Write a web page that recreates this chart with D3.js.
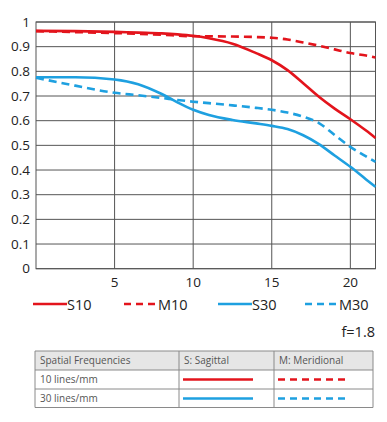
<!DOCTYPE html>
<html>
<head>
<meta charset="utf-8">
<script src="https://cdn.jsdelivr.net/npm/d3@7"></script>
<style>
  body { margin: 0; background: #fff; }
  svg { display: block; font-family: "Open Sans", sans-serif; }
</style>
</head>
<body>
<svg width="387" height="422"></svg>
<script>
// image height (mm) from centre
const heights = [0, 2.5, 5, 6.5, 8, 9, 10, 11, 12.5, 14, 15, 16, 17, 18, 19, 20, 21, 21.6];
// contrast values per series
const s10 = [0.964, 0.963, 0.96, 0.957, 0.954, 0.95, 0.944, 0.934, 0.912, 0.874, 0.845, 0.805, 0.752, 0.697, 0.649, 0.606, 0.56, 0.53];
const m10 = [0.963, 0.959, 0.955, 0.952, 0.948, 0.945, 0.942, 0.942, 0.941, 0.939, 0.936, 0.929, 0.917, 0.904, 0.889, 0.874, 0.864, 0.856];
const s30 = [0.776, 0.776, 0.767, 0.748, 0.708, 0.674, 0.644, 0.623, 0.603, 0.589, 0.579, 0.566, 0.541, 0.505, 0.459, 0.413, 0.362, 0.332];
const m30 = [0.774, 0.742, 0.713, 0.703, 0.692, 0.684, 0.677, 0.671, 0.662, 0.652, 0.644, 0.633, 0.616, 0.59, 0.542, 0.494, 0.455, 0.433];
const xTicks = [5, 10, 15, 20];
const yTicks = [0, 0.1, 0.2, 0.3, 0.4, 0.5, 0.6, 0.7, 0.8, 0.9, 1];

const red = '#e3141c';
const blue = '#1ea0e0';

const series = [
  { name: 'S10', values: s10, color: red, dash: null },
  { name: 'M10', values: m10, color: red, dash: '8,5' },
  { name: 'S30', values: s30, color: blue, dash: null },
  { name: 'M30', values: m30, color: blue, dash: '8,5' }
];

const svg = d3.select('svg');
const plotL = 36, plotR = 375.5, plotT = 22, plotB = 268.7;

const x = d3.scaleLinear().domain([0, 21.6]).range([plotL, plotR]);
const y = d3.scaleLinear().domain([0, 1]).range([plotB, plotT]);

// grid
const grid = svg.append('g').attr('stroke', '#555').attr('stroke-width', 1);
grid.selectAll('.h').data(yTicks).enter().append('line')
  .attr('x1', plotL).attr('x2', plotR)
  .attr('y1', d => y(d)).attr('y2', d => y(d));
grid.selectAll('.v').data(xTicks).enter().append('line')
  .attr('x1', d => x(d)).attr('x2', d => x(d))
  .attr('y1', plotT).attr('y2', plotB);
svg.append('rect')
  .attr('x', plotL).attr('y', plotT)
  .attr('width', plotR - plotL).attr('height', plotB - plotT)
  .attr('fill', 'none').attr('stroke', '#555');

// tick labels
svg.selectAll('.yl').data(yTicks).enter().append('text')
  .attr('x', 30).attr('y', d => y(d))
  .attr('dy', '0.35em')
  .attr('text-anchor', 'end')
  .attr('font-size', 13.5)
  .attr('fill', '#222')
  .text(d => d === 0 || d === 1 ? d : d.toFixed(1));
svg.selectAll('.xl').data(xTicks).enter().append('text')
  .attr('x', d => x(d)).attr('y', 287)
  .attr('text-anchor', 'middle')
  .attr('font-size', 13.5)
  .attr('fill', '#222')
  .text(d => d);

// curves
const line = d3.line()
  .x((d, i) => x(heights[i]))
  .y(d => y(d))
  .curve(d3.curveMonotoneX);

svg.selectAll('.curve').data(series).enter().append('path')
  .attr('d', d => line(d.values))
  .attr('fill', 'none')
  .attr('stroke', d => d.color)
  .attr('stroke-width', 2.6)
  .attr('stroke-dasharray', d => d.dash);

// legend
const legX = [33, 124, 218, 305];
const leg = svg.selectAll('.leg').data(series).enter().append('g')
  .attr('transform', (d, i) => 'translate(' + legX[i] + ',304)');
leg.append('line')
  .attr('x1', 0).attr('x2', 34)
  .attr('stroke', d => d.color)
  .attr('stroke-width', 2.6)
  .attr('stroke-dasharray', d => d.dash ? '7,5' : null);
leg.append('text')
  .attr('x', 34).attr('y', 6)
  .attr('font-size', 14.5)
  .attr('fill', '#222')
  .text(d => d.name);

svg.append('text')
  .attr('x', 375).attr('y', 336.5)
  .attr('text-anchor', 'end')
  .attr('font-size', 14.5)
  .attr('fill', '#222')
  .text('f=1.8');

// table
const tx = [35, 179, 274, 373];
const ty = [351, 370, 389, 407.5];
const table = svg.append('g');
table.append('rect')
  .attr('x', tx[0]).attr('y', ty[0])
  .attr('width', tx[3] - tx[0]).attr('height', ty[1] - ty[0])
  .attr('fill', '#e6e6e6');
table.selectAll('.th').data(ty).enter().append('line')
  .attr('x1', tx[0]).attr('x2', tx[3])
  .attr('y1', d => d).attr('y2', d => d)
  .attr('stroke', '#8a8a8a');
table.selectAll('.tv').data(tx).enter().append('line')
  .attr('x1', d => d).attr('x2', d => d)
  .attr('y1', ty[0]).attr('y2', ty[3])
  .attr('stroke', '#8a8a8a');

const headers = ['Spatial Frequencies', 'S: Sagittal', 'M: Meridional'];
table.selectAll('.hd').data(headers).enter().append('text')
  .attr('x', (d, i) => tx[i] + 5).attr('y', 364)
  .attr('font-size', 10)
  .attr('fill', '#555')
  .text(d => d);

const rows = [
  { label: '10 lines/mm', color: red },
  { label: '30 lines/mm', color: blue }
];
const row = table.selectAll('.row').data(rows).enter().append('g')
  .attr('transform', (d, i) => 'translate(0,' + (ty[i + 1]) + ')');
row.append('text')
  .attr('x', tx[0] + 5).attr('y', 13)
  .attr('font-size', 10)
  .attr('fill', '#555')
  .text(d => d.label);
row.append('line')
  .attr('x1', 183).attr('x2', 253)
  .attr('y1', 9.5).attr('y2', 9.5)
  .attr('stroke', d => d.color).attr('stroke-width', 2.6);
row.append('line')
  .attr('x1', 278).attr('x2', 350)
  .attr('y1', 9.5).attr('y2', 9.5)
  .attr('stroke', d => d.color).attr('stroke-width', 2.6)
  .attr('stroke-dasharray', '7,5');
</script>
</body>
</html>
